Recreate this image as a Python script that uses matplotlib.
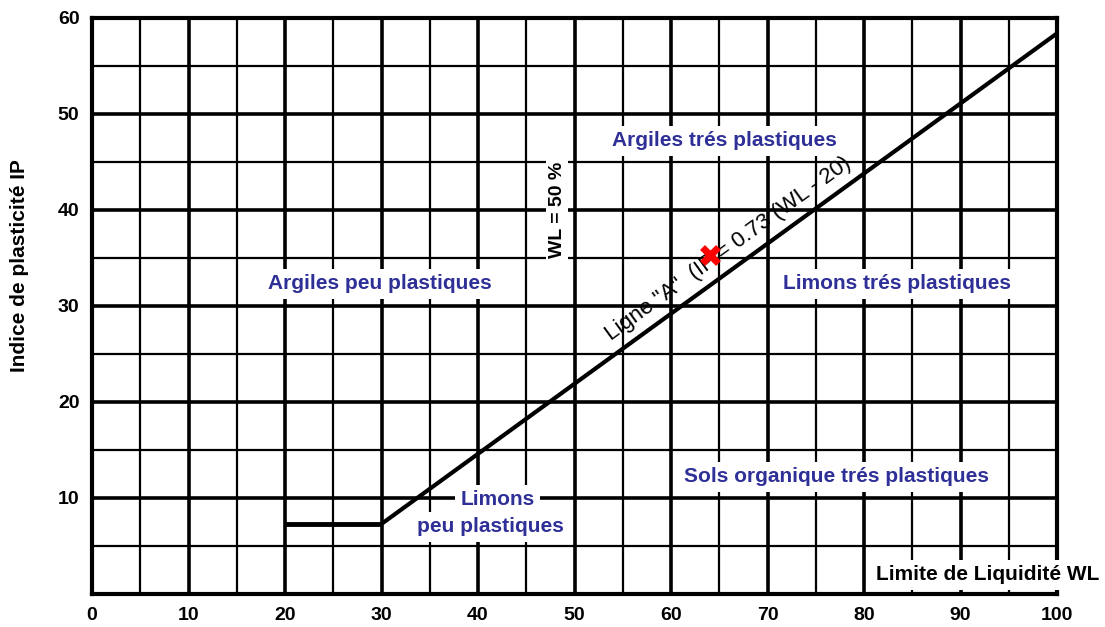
import matplotlib.pyplot as plt
from matplotlib.ticker import MultipleLocator

plt.rcParams['font.family'] = ['Liberation Sans', 'DejaVu Sans']

# Ligne A : IP = 0.73 (WL - 20), palier horizontal de 20 a 30
wl_palier = [20, 30]
ip_palier = [7.3, 7.3]
wl_ligne = [30, 100]
ip_ligne = [0.73 * (w - 20) for w in wl_ligne]

x_ticks = [0, 10, 20, 30, 40, 50, 60, 70, 80, 90, 100]
y_ticks = [10, 20, 30, 40, 50, 60]

# zones (texte, WL, IP)
zones = [
    ("Argiles trés plastiques", 65.5, 47.2),
    ("Argiles peu plastiques", 29.8, 32.3),
    ("Limons trés plastiques", 83.4, 32.3),
    ("Limons", 42.0, 9.8),
    ("peu plastiques", 41.3, 7.0),
    ("Sols organique trés plastiques", 77.1, 12.2),
]
bleu = "#2f2f98"

fig = plt.figure(figsize=(11.05, 6.27), dpi=100)
ax = fig.add_axes([92 / 1105, 1 - 594 / 627, 965 / 1105, 576 / 627])

ax.set_xlim(0, 100)
ax.set_ylim(0, 60)
ax.xaxis.set_major_locator(MultipleLocator(10))
ax.xaxis.set_minor_locator(MultipleLocator(5))
ax.yaxis.set_major_locator(MultipleLocator(10))
ax.yaxis.set_minor_locator(MultipleLocator(5))
ax.grid(which="major", color="black", lw=2.6, zorder=0)
ax.grid(which="minor", color="black", lw=1.6, zorder=0)
ax.set_axisbelow(True)
for s in ax.spines.values():
    s.set_linewidth(3)

ax.set_xticks(x_ticks)
ax.set_yticks(y_ticks)
ax.set_yticklabels([str(v) for v in y_ticks])
ax.tick_params(which="both", length=0, labelsize=14, pad=9)
for lab in ax.get_xticklabels() + ax.get_yticklabels():
    lab.set_fontweight("bold")

ax.plot(wl_palier, ip_palier, color="black", lw=3.5, zorder=3, solid_capstyle="butt")
ax.plot(wl_ligne, ip_ligne, color="black", lw=3, zorder=3)

box = dict(facecolor="white", edgecolor="none", pad=4)
for txt, x, y in zones:
    ax.text(x, y, txt, color=bleu, fontsize=15, fontweight="bold",
            ha="center", va="center", bbox=box, zorder=4)

ax.text(48.2, 40, "WL = 50 %", rotation=90, fontsize=14, fontweight="bold",
        ha="center", va="center", bbox=dict(facecolor="white", edgecolor="none", pad=2),
        zorder=4)
ax.text(92.8, 2.0, "Limite de Liquidité WL", fontsize=15, fontweight="bold",
        ha="center", va="center", bbox=box, zorder=4)
ax.text(65.9, 35.9, 'Ligne "A"  (IP = 0.73 (WL - 20)', rotation=36, fontsize=16,
        ha="center", va="center", zorder=4, rotation_mode="anchor")

# marque rouge
ax.plot(64, 35.3, marker="x", color="red", ms=12, mew=5, zorder=5)

fig.text(20 / 1105, 1 - 266 / 627, "Indice de plasticité IP", rotation=90,
         fontsize=15, fontweight="bold", ha="center", va="center")

fig.savefig("out.png", dpi=100)
